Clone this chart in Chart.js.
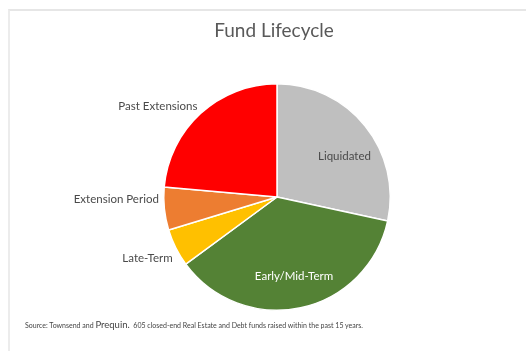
<!DOCTYPE html>
<html>
<head>
<meta charset="utf-8">
<script src="https://cdn.jsdelivr.net/npm/chart.js@4"></script>
<style>
  html, body { margin: 0; padding: 0; background: #fff; }
  #wrap { position: relative; width: 526px; height: 351px; overflow: hidden; }
  #frame { position: absolute; left: 8px; top: 9px; width: 530px; height: 350px;
           border-top: 2px solid #e6e6e6; border-left: 2px solid #ececec; }
  #src { position: absolute; left: 25px; top: 319px; font-family: Lato, sans-serif;
         font-size: 7px; color: #444; white-space: nowrap; }
  #src b { font-weight: normal; font-size: 9.5px; }
  canvas { position: absolute; left: 0; top: 0; }
</style>
</head>
<body>
<div id="wrap">
  <div id="frame"></div>
  <canvas id="myChart" width="526" height="351"></canvas>
  <div id="src">Source: Townsend and <b>Prequin.</b>&nbsp; 605 closed-end Real Estate and Debt funds raised within the past 15 years.</div>
</div>
<script>
const labels = ["Liquidated", "Early/Mid-Term", "Late-Term", "Extension Period", "Past Extensions"];
const values = [28.4, 36.5, 5.4, 6.1, 23.6];
const colors = ["#bfbfbf", "#548235", "#ffc000", "#ed7d31", "#ff0000"];

// label placement: inside slices or outside to the left
const inside = [true, true, false, false, false];

const labelPlugin = {
  id: "sliceLabels",
  afterDraw(chart) {
    const ctx = chart.ctx;
    const meta = chart.getDatasetMeta(0);
    ctx.save();
    ctx.font = "11.5px Lato, sans-serif";
    ctx.textBaseline = "middle";
    meta.data.forEach((arc, i) => {
      const mid = (arc.startAngle + arc.endAngle) / 2;
      if (inside[i]) {
        const r = arc.outerRadius * 0.72;
        let x = arc.x + Math.cos(mid) * r;
        let y = arc.y + Math.sin(mid) * r;
        if (i === 0) { x += 4; y += 10; }
        ctx.textAlign = "center";
        ctx.fillStyle = i === 1 ? "#ffffff" : "#4a4a4a";
        ctx.fillText(labels[i], x, y);
      } else {
        const r = arc.outerRadius * 1.04;
        let x = arc.x + Math.cos(mid) * r;
        let y = arc.y + Math.sin(mid) * r;
        if (i === 4) { y -= 4; }
        if (i === 3) { y -= 10; x -= 1; }
        if (i === 2) { y += 8; x += 1; }
        ctx.textAlign = "right";
        ctx.fillStyle = "#4a4a4a";
        ctx.fillText(labels[i], x, y);
      }
    });
    // title
    ctx.font = "19px Lato, sans-serif";
    ctx.textAlign = "center";
    ctx.fillStyle = "#595959";
    ctx.fillText("Fund Lifecycle", 274, 31);
    ctx.restore();
  }
};

function drawChart() {
  const ctx = document.getElementById("myChart").getContext("2d");
  new Chart(ctx, {
    type: "pie",
    data: {
      labels,
      datasets: [{
        data: values,
        backgroundColor: colors,
        borderColor: "#ffffff",
        borderWidth: 1.5
      }]
    },
    options: {
      responsive: false,
      animation: false,
      layout: { padding: { left: 163, right: 135, top: 83, bottom: 40 } },
      plugins: { legend: { display: false }, tooltip: { enabled: false } }
    },
    plugins: [labelPlugin]
  });
}

drawChart();
</script>
</body>
</html>
